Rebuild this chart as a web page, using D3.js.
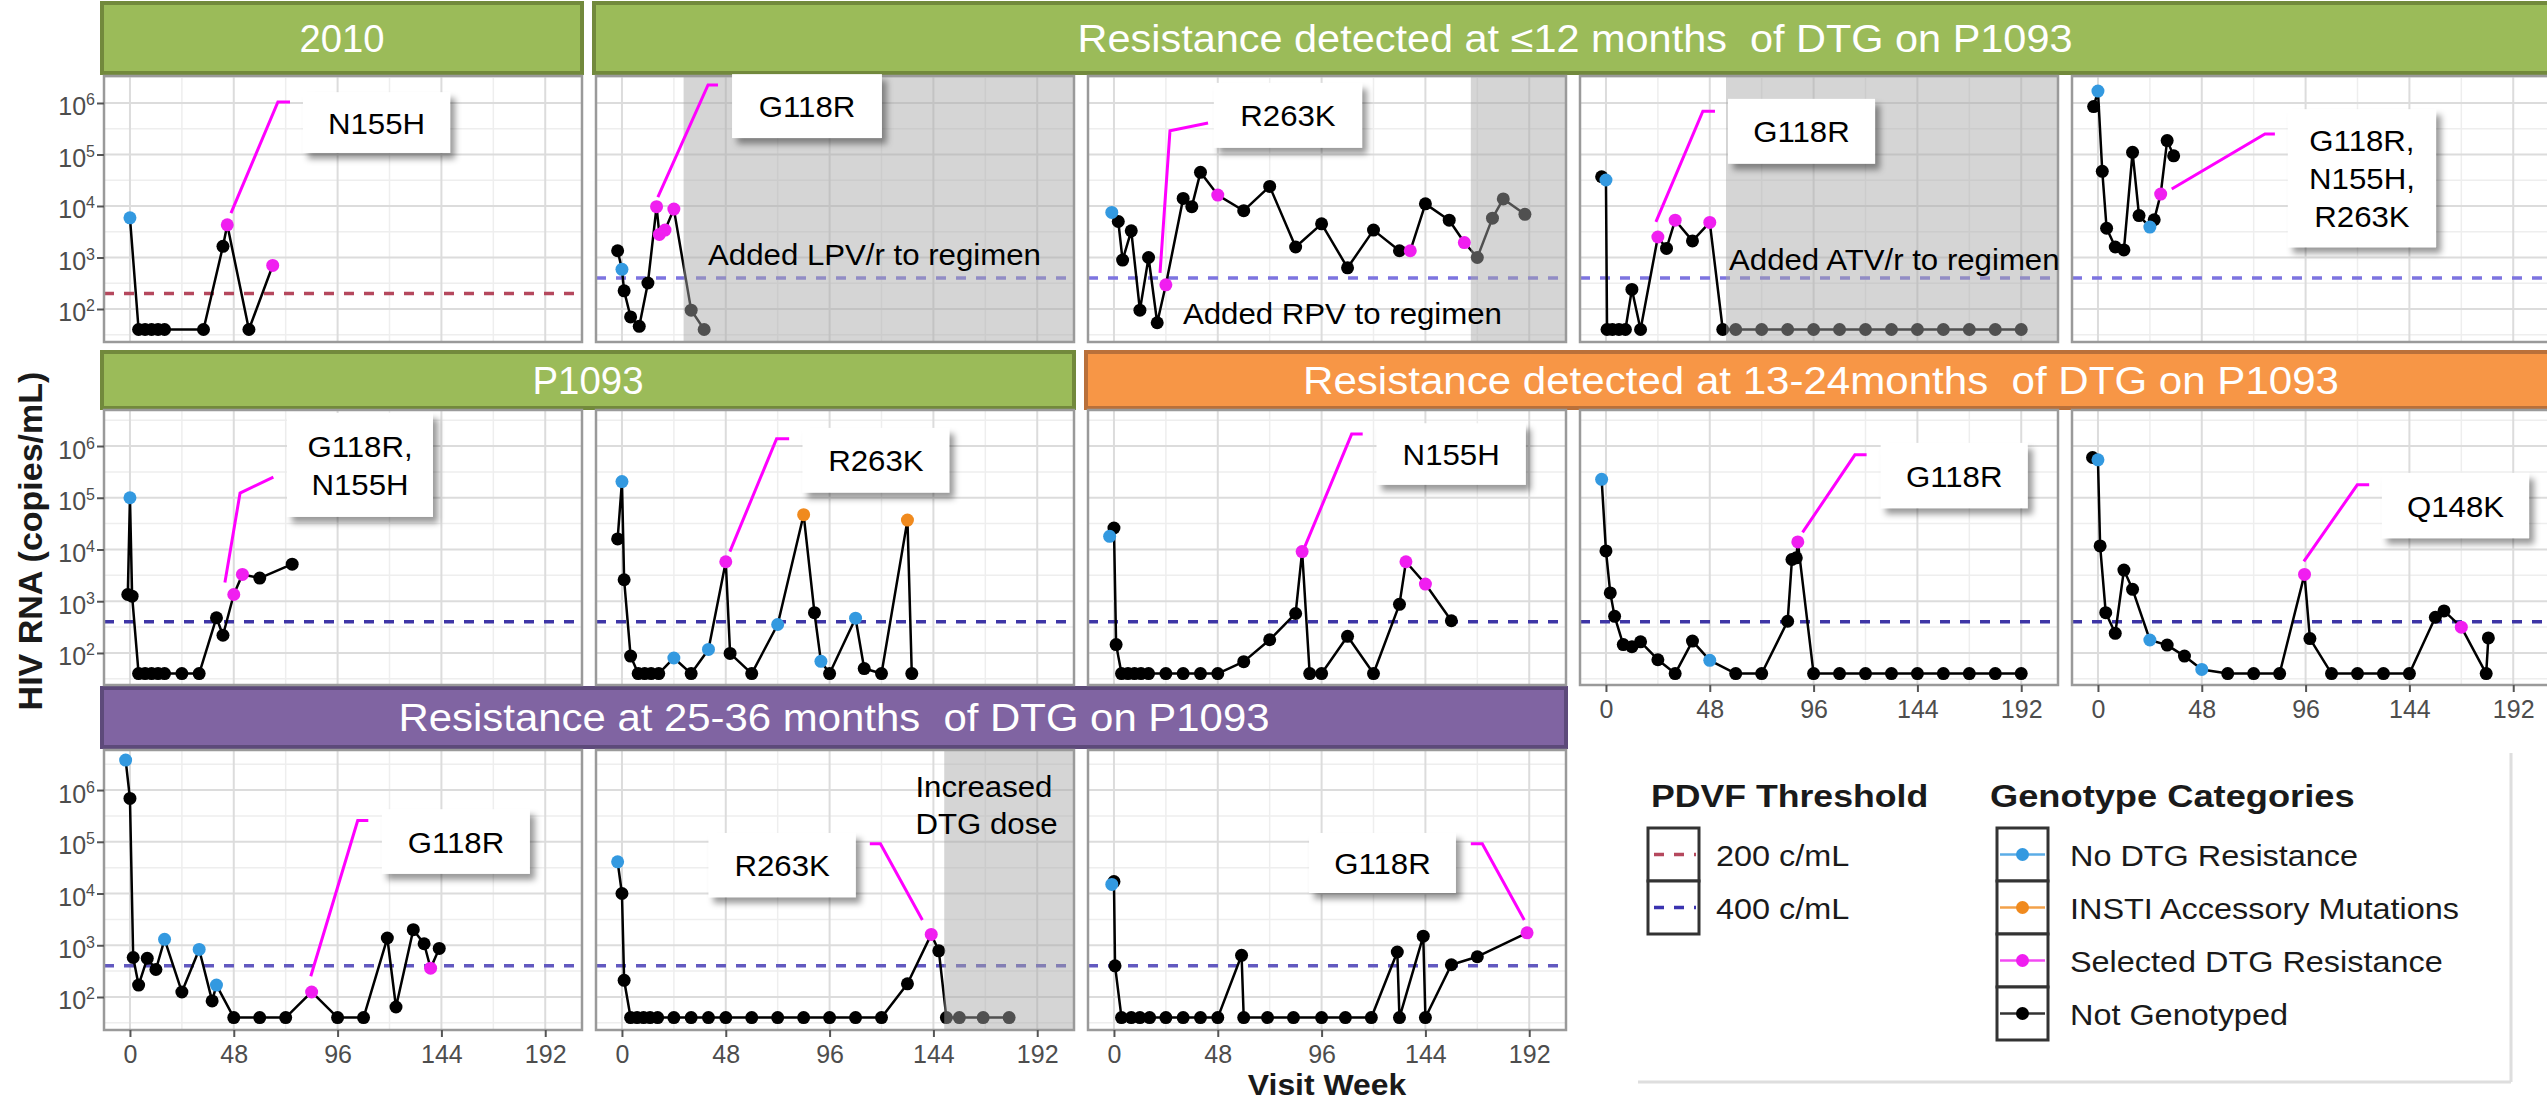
<!DOCTYPE html>
<html><head><meta charset="utf-8">
<script src="https://cdn.jsdelivr.net/npm/d3@7/dist/d3.min.js"></script>
<style>
html,body{margin:0;padding:0;background:#fff;}
svg{display:block;}
</style></head><body>
<svg id="chart" width="2547" height="1102"></svg>
<script>
// ---------------- data ----------------
const weekTicks = [0, 48, 96, 144, 192];
const weekMinor = [24, 72, 120, 168];
const yTickExps = [2, 3, 4, 5, 6];
const categoryCodes = ["N", "A", "S", "X"];
const categoryLabels = ["No DTG Resistance", "INSTI Accessory Mutations", "Selected DTG Resistance", "Not Genotyped"];
const thresholdValues = [200, 400];
const thresholdLabels = ["200 c/mL", "400 c/mL"];
const bannerTitles = ["2010", "Resistance detected at \u226412 months  of DTG on P1093", "P1093",
  "Resistance detected at 13-24months  of DTG on P1093", "Resistance at 25-36 months  of DTG on P1093"];
const axisTitleX = "Visit Week";
const axisTitleY = "HIV RNA (copies/mL)";

// row 1
const wk_r1c1 = [0, 4, 7, 10, 13, 16, 34, 43, 45, 55, 66];
const rna_r1c1 = [5900, 40, 40, 40, 40, 40, 40, 1650, 4300, 40, 700];
const cat_r1c1 = ["N","X","X","X","X","X","X","X","S","X","S"];

const wk_r1c2 = [-2, 0, 1, 4, 8, 12, 16, 17.3, 19.9, 24, 32, 38];
const rna_r1c2 = [1350, 590, 225, 70, 46, 320, 9700, 2800, 3400, 8700, 95, 40];
const cat_r1c2 = ["X","N","X","X","X","X","S","S","S","S","X","X"];

const wk_r1c3 = [-1, 2, 4, 8, 12, 16, 20, 24, 32, 36, 40, 48, 60, 72, 84, 96, 108, 120, 132, 137, 144, 155, 162, 168, 175, 180, 190];
const rna_r1c3 = [7500, 5000, 890, 3300, 95, 1000, 54, 295, 14000, 9700, 45000, 16300, 8100, 24000, 1600, 4500, 630, 3400, 1350, 1350, 11000, 5300, 1950, 1000, 5800, 13700, 6900];
const cat_r1c3 = ["N","X","X","X","X","X","X","S","X","X","X","S","X","X","X","X","X","X","X","S","X","X","S","X","X","X","X"];

const wk_r1c4 = [-2, 0, 0.5, 3, 6, 9, 12, 16, 24, 28, 32, 40, 48, 54, 60, 72, 84, 96, 108, 120, 132, 144, 156, 168, 180, 192];
const rna_r1c4 = [37000, 32000, 40, 40, 40, 40, 240, 40, 2500, 1500, 5300, 2100, 4800, 40, 40, 40, 40, 40, 40, 40, 40, 40, 40, 40, 40, 40];
const cat_r1c4 = ["X","N","X","X","X","X","X","X","S","X","S","X","S","X","X","X","X","X","X","X","X","X","X","X","X","X"];

const wk_r1c5 = [-2, 0, 2, 4, 8, 12, 16, 19, 24, 26, 29, 32, 35];
const rna_r1c5 = [850000, 1700000, 47000, 3700, 1600, 1400, 110000, 6500, 3900, 5400, 17000, 186000, 94000];
const cat_r1c5 = ["X","N","X","X","X","X","X","X","N","X","S","X","X"];

// row 2
const wk_r2c1 = [-1, 0, 1, 4, 7, 10, 13, 16, 24, 32, 40, 43, 48, 52, 60, 75];
const rna_r2c1 = [1350, 100000, 1250, 40, 40, 40, 40, 40, 40, 40, 480, 220, 1350, 3300, 2800, 5200];
const cat_r2c1 = ["X","N","X","X","X","X","X","X","X","X","X","X","S","S","X","X"];

const wk_r2c2 = [-2, 0, 1, 4, 7.5, 10.5, 13.5, 17, 24, 32, 40, 48, 50, 60, 72, 84, 89, 92, 96, 108, 112, 120, 132, 134];
const rna_r2c2 = [16000, 205000, 2600, 87, 40, 40, 40, 40, 80, 40, 117, 5800, 98, 40, 355, 47000, 600, 69, 40, 470, 50, 40, 37000, 40];
const cat_r2c2 = ["X","N","X","X","X","X","X","X","N","X","N","S","X","X","N","A","X","N","X","N","X","X","A","X"];

const wk_r2c3 = [-2, 0, 1, 3.5, 6.5, 9.5, 12.5, 16, 24, 32, 40, 48, 60, 72, 84, 87, 90.5, 96, 108, 120, 132, 135, 144, 156];
const rna_r2c3 = [18000, 26000, 145, 40, 40, 40, 40, 40, 40, 40, 40, 40, 68, 180, 580, 9100, 40, 40, 210, 40, 870, 5800, 2150, 420];
const cat_r2c3 = ["N","X","X","X","X","X","X","X","X","X","X","X","X","X","X","S","X","X","X","X","X","S","S","X"];

const wk_r2c4 = [-2, 0, 2, 4, 8, 12, 16, 24, 32, 40, 48, 60, 72, 84, 86, 88, 88.7, 96, 108, 120, 132, 144, 156, 168, 180, 192];
const rna_r2c4 = [227000, 9400, 1450, 510, 145, 132, 164, 74, 40, 170, 72, 40, 40, 410, 6400, 6900, 14000, 40, 40, 40, 40, 40, 40, 40, 40, 40];
const cat_r2c4 = ["N","X","X","X","X","X","X","X","X","X","N","X","X","X","X","X","S","X","X","X","X","X","X","X","X","X"];

const wk_r2c5 = [-2.5, 0, 1, 3.6, 8, 12, 16, 24, 32, 40, 48, 60, 72, 84, 95.5, 98, 108, 120, 132, 144, 156, 160, 168, 179.5, 180.5];
const rna_r2c5 = [600000, 540000, 11700, 600, 240, 4000, 1700, 178, 142, 87, 48, 40, 40, 40, 3300, 190, 40, 40, 40, 40, 490, 650, 315, 40, 195];
const cat_r2c5 = ["X","N","X","X","X","X","X","N","X","X","N","X","X","X","S","X","X","X","X","X","X","X","S","X","X"];

// row 3
const wk_r3c1 = [-2, 0, 1.5, 4, 8, 12, 16, 24, 32, 38, 40, 48, 60, 72, 84, 96, 108, 119, 123, 131, 136, 139, 143];
const rna_r3c1 = [3800000, 690000, 580, 170, 560, 340, 1300, 125, 830, 84, 170, 40, 40, 40, 125, 40, 40, 1380, 64, 2000, 1070, 360, 870];
const cat_r3c1 = ["N","X","X","X","X","X","N","X","N","X","N","X","X","X","S","X","X","X","X","X","X","S","X"];

const wk_r3c2 = [-2, 0, 1, 4, 7, 10, 13, 16.5, 24, 32, 40, 48, 60, 72, 84, 96, 108, 120, 132, 143, 146.5, 150, 156, 167, 179];
const rna_r3c2 = [41000, 10000, 210, 40, 40, 40, 40, 40, 40, 40, 40, 40, 40, 40, 40, 40, 40, 40, 180, 1620, 780, 40, 40, 40, 40];
const cat_r3c2 = ["N","X","X","X","X","X","X","X","X","X","X","X","X","X","X","X","X","X","X","S","X","X","X","X","X"];

const wk_r3c3 = [-1, 0, 0.5, 3.5, 8, 12, 16.5, 24, 32, 40, 48, 59, 60, 71, 83, 96, 107, 119, 131, 132, 143, 144, 156, 168, 191];
const rna_r3c3 = [15000, 17000, 400, 40, 40, 40, 40, 40, 40, 40, 40, 640, 40, 40, 40, 40, 40, 40, 740, 40, 1500, 40, 420, 600, 1740];
const cat_r3c3 = ["N","X","X","X","X","X","X","X","X","X","X","X","X","X","X","X","X","X","X","X","X","X","X","X","S"];

// mutation labels (text) and regimen notes
const mutationLabels = [["N155H"], ["G118R"], ["R263K"], ["G118R"], ["G118R,","N155H,","R263K"],
  ["G118R,","N155H"], ["R263K"], ["N155H"], ["G118R"], ["Q148K"],
  ["G118R"], ["R263K"], ["G118R"]];
const regimenNotes = [["Added LPV/r to regimen"], ["Added RPV to regimen"], ["Added ATV/r to regimen"], ["Increased","DTG dose"]];
// week at which regimen change begins (shaded)
const shadeStartWeeks = [28.5, 165, 55.5, 149];

// ---------------- layout / styles ----------------
const FONT = '"Liberation Sans", Arial, Helvetica, sans-serif';
const catColor = {N: "#3399e0", A: "#f08a1e", S: "#f01ef0", X: "#000000"};
const PANEL_W = 478, COL_STEP = 492, COL0 = 104;
const X_DOMAIN = [-12, 209];
const rows = [
  {top: 76, bottom: 342, logTop: 6.524, logBot: 1.359, bTop: 3, bBot: 73, thr400: "#7d74e0"},
  {top: 410, bottom: 685, logTop: 6.696, logBot: 1.381, bTop: 352, bBot: 408, thr400: "#3e36a6"},
  {top: 750, bottom: 1030, logTop: 6.774, logBot: 1.362, bTop: 688, bBot: 747, thr400: "#6259c0"}
];
const thrColor200 = "#b5485d";
const themes = {
  green: {fill: "#9bbb59", stroke: "#72893c"},
  orange: {fill: "#f79646", stroke: "#b9703a"},
  purple: {fill: "#8064a2", stroke: "#5d4a7a"}
};
const colLeft = c => COL0 + COL_STEP * c;

// annotation placement in data units (week, log10 copies)
const panels = [
  {row:0,col:0,wk:wk_r1c1,rna:rna_r1c1,cat:cat_r1c1,thr:200,lab:0,leader:[[46.7,3.86],[68.4,6.02],[74,6.02]],box:[80,148,6.21,5.03]},
  {row:0,col:1,wk:wk_r1c2,rna:rna_r1c2,cat:cat_r1c2,thr:400,lab:1,leader:[[16.6,4.17],[39.8,6.35],[44.4,6.35]],box:[50.9,120.2,6.56,5.32],note:0,noteAt:[39.8,2.85],shade:0},
  {row:0,col:2,wk:wk_r1c3,rna:rna_r1c3,cat:cat_r1c3,thr:400,lab:2,leader:[[21.3,2.70],[25.9,5.46],[43.5,5.61]],box:[46.2,114.7,6.39,5.13],note:1,noteAt:[31.9,1.71],shade:1},
  {row:0,col:3,wk:wk_r1c4,rna:rna_r1c4,cat:cat_r1c4,thr:400,lab:3,leader:[[23.1,3.69],[44.8,5.84],[50.4,5.84]],box:[56.4,124.4,6.08,4.82],note:2,noteAt:[56.9,2.76],shade:2},
  {row:0,col:4,wk:wk_r1c5,rna:rna_r1c5,cat:cat_r1c5,thr:400,lab:4,leader:[[34.1,4.33],[77.2,5.40],[81.8,5.40]],box:[87.8,156.3,5.88,3.20]},
  {row:1,col:0,wk:wk_r2c1,rna:rna_r2c1,cat:cat_r2c1,thr:400,lab:5,leader:[[43.9,3.36],[50.9,5.09],[66.3,5.40]],box:[72.6,140.1,6.64,4.63]},
  {row:1,col:1,wk:wk_r2c2,rna:rna_r2c2,cat:cat_r2c2,thr:400,lab:6,leader:[[49.9,3.96],[71.5,6.14],[77.3,6.14]],box:[83.5,151.3,6.35,5.10]},
  {row:1,col:2,wk:wk_r2c3,rna:rna_r2c3,cat:cat_r2c3,thr:400,lab:7,leader:[[88.3,4.06],[109.9,6.23],[115,6.23]],box:[121.4,190.4,6.44,5.25]},
  {row:1,col:3,wk:wk_r2c4,rna:rna_r2c4,cat:cat_r2c4,thr:400,lab:8,leader:[[90.9,4.33],[115.1,5.83],[120.5,5.83]],box:[127,195,6.06,4.80],xaxis:true},
  {row:1,col:4,wk:wk_r2c5,rna:rna_r2c5,cat:cat_r2c5,thr:400,lab:9,leader:[[95.2,3.77],[119.9,5.25],[125.4,5.25]],box:[131.3,199.3,5.48,4.22],xaxis:true},
  {row:2,col:0,wk:wk_r3c1,rna:rna_r3c1,cat:cat_r3c1,thr:400,lab:10,leader:[[83.6,2.40],[105.3,5.41],[110.2,5.41]],box:[116.5,184.9,5.63,4.38],xaxis:true},
  {row:2,col:1,wk:wk_r3c2,rna:rna_r3c2,cat:cat_r3c2,thr:400,lab:11,leader:[[138.9,3.49],[119.5,4.96],[114.6,4.96]],box:[40,108.1,5.17,3.93],note:3,noteAt:[135.7,5.86],shade:3,xaxis:true},
  {row:2,col:2,wk:wk_r3c3,rna:rna_r3c3,cat:cat_r3c3,thr:400,lab:12,leader:[[189.7,3.49],[170.3,4.96],[165,4.96]],box:[90.2,158.1,5.17,4.01],xaxis:true}
];
const banners = [
  {row:0, c0:0, c1:0, t:0, theme:"green", len:85},
  {row:0, c0:1, c1:4, t:1, theme:"green", len:995},
  {row:1, c0:0, c1:1, t:2, theme:"green", len:111},
  {row:1, c0:2, c1:4, t:3, theme:"orange", len:1036},
  {row:2, c0:0, c1:2, t:4, theme:"purple", len:871}
];

// ---------------- drawing ----------------
const svg = d3.select("#chart");
const defs = svg.append("defs");
const flt = defs.append("filter").attr("id","shadow").attr("x","-10%").attr("y","-15%").attr("width","130%").attr("height","140%");
flt.append("feDropShadow").attr("dx",5).attr("dy",6).attr("stdDeviation",3).attr("flood-color","#000").attr("flood-opacity",0.4);

function addText(parent, x, y, str, o) {
  const g = parent.append("g").attr("transform", `translate(${x},${y}) scale(${o.sx || 1},1)`);
  const t = g.append("text").attr("x", 0).attr("y", 0)
    .attr("text-anchor", o.anchor || "start")
    .attr("font-size", o.size).attr("font-weight", o.weight || "normal")
    .attr("fill", o.fill || "#000").attr("font-family", FONT)
    .style("white-space", "pre").text(str);
  if (o.rotate) g.attr("transform", `translate(${x},${y}) rotate(${o.rotate}) scale(${o.sx || 1},1)`);
  return t;
}

// banners
banners.forEach(b => {
  const R = rows[b.row], th = themes[b.theme];
  const x0 = colLeft(b.c0) - 2;
  const x1 = b.c1 === 4 ? colLeft(4) + PANEL_W + 6 : colLeft(b.c1) + PANEL_W;
  svg.append("rect").attr("x", x0).attr("y", R.bTop).attr("width", x1 - x0).attr("height", R.bBot - R.bTop)
    .attr("fill", th.fill).attr("stroke", th.stroke).attr("stroke-width", 4);
  const cy = (R.bTop + R.bBot) / 2;
  svg.append("text").attr("x", (x0 + x1) / 2).attr("y", cy + 13.5)
    .attr("text-anchor", "middle").attr("font-family", FONT).attr("font-size", 38).attr("fill", "#fff")
    .attr("textLength", b.len).attr("lengthAdjust", "spacingAndGlyphs")
    .style("white-space", "pre").text(bannerTitles[b.t]);
});

panels.forEach(p => {
  const R = rows[p.row];
  const L = colLeft(p.col);
  const x = d3.scaleLinear().domain(X_DOMAIN).range([L, L + PANEL_W]);
  const y = d3.scaleLog().domain([10 ** R.logBot, 10 ** R.logTop]).range([R.bottom, R.top]);
  const g = svg.append("g");
  g.append("rect").attr("x", L).attr("y", R.top).attr("width", PANEL_W).attr("height", R.bottom - R.top).attr("fill", "#fff");
  // minor grid
  const minorY = [1.5, 2.5, 3.5, 4.5, 5.5, 6.5].filter(e => e > R.logBot && e < R.logTop);
  g.selectAll(null).data(minorY).enter().append("line")
    .attr("x1", L).attr("x2", L + PANEL_W).attr("y1", e => y(10 ** e)).attr("y2", e => y(10 ** e))
    .attr("stroke", "#eeeeee").attr("stroke-width", 1.5);
  g.selectAll(null).data(weekMinor).enter().append("line")
    .attr("y1", R.top).attr("y2", R.bottom).attr("x1", d => x(d)).attr("x2", d => x(d))
    .attr("stroke", "#eeeeee").attr("stroke-width", 1.5);
  // major grid
  g.selectAll(null).data(yTickExps).enter().append("line")
    .attr("x1", L).attr("x2", L + PANEL_W).attr("y1", e => y(10 ** e)).attr("y2", e => y(10 ** e))
    .attr("stroke", "#dcdcdc").attr("stroke-width", 2);
  g.selectAll(null).data(weekTicks).enter().append("line")
    .attr("y1", R.top).attr("y2", R.bottom).attr("x1", d => x(d)).attr("x2", d => x(d))
    .attr("stroke", "#dcdcdc").attr("stroke-width", 2);
  // threshold
  g.append("line").attr("x1", L).attr("x2", L + PANEL_W).attr("y1", y(p.thr)).attr("y2", y(p.thr))
    .attr("stroke", p.thr === 200 ? thrColor200 : R.thr400).attr("stroke-width", 3.5).attr("stroke-dasharray", "10,10");
  // series
  const pts = p.wk.map((w, i) => ({w: w, v: p.rna[i], c: p.cat[i]}));
  g.append("path").datum(pts)
    .attr("d", d3.line().x(d => x(d.w)).y(d => y(d.v)))
    .attr("fill", "none").attr("stroke", "#000").attr("stroke-width", 2.5).attr("stroke-linejoin", "round");
  const order = pts.slice().sort((a, b) => (a.c === "X" ? 0 : 1) - (b.c === "X" ? 0 : 1));
  g.selectAll(null).data(order).enter().append("circle")
    .attr("cx", d => x(d.w)).attr("cy", d => y(d.v)).attr("r", 6.5).attr("fill", d => catColor[d.c]);
  // shaded regimen change
  if (p.shade !== undefined) {
    const s = shadeStartWeeks[p.shade];
    g.append("rect").attr("x", x(s)).attr("y", R.top).attr("width", x(X_DOMAIN[1]) - x(s)).attr("height", R.bottom - R.top)
      .attr("fill", "#a7a7a7").attr("opacity", 0.48);
  }
  // border
  g.append("rect").attr("x", L).attr("y", R.top).attr("width", PANEL_W).attr("height", R.bottom - R.top)
    .attr("fill", "none").attr("stroke", "#9a9a9a").attr("stroke-width", 2.5);
  // note
  if (p.note !== undefined) {
    const lines = regimenNotes[p.note];
    lines.forEach((ln, i) => addText(g, x(p.noteAt[0]), y(10 ** p.noteAt[1]) + i * 37, ln, {size: 30, sx: 1.04}));
  }
  // leader + box
  g.append("path").datum(p.leader)
    .attr("d", d3.line().x(d => x(d[0])).y(d => y(10 ** d[1])))
    .attr("fill", "none").attr("stroke", "#ff00ff").attr("stroke-width", 3);
  const bx0 = x(p.box[0]), bx1 = x(p.box[1]), by0 = y(10 ** p.box[2]), by1 = y(10 ** p.box[3]);
  g.append("rect").attr("x", bx0).attr("y", by0).attr("width", bx1 - bx0).attr("height", by1 - by0)
    .attr("fill", "#fff").attr("filter", "url(#shadow)");
  const lines = mutationLabels[p.lab];
  const cx = (bx0 + bx1) / 2, cy = (by0 + by1) / 2;
  lines.forEach((ln, i) => addText(g, cx, cy + (i - (lines.length - 1) / 2) * 38 + 11, ln, {size: 30, sx: 1.04, anchor: "middle"}));

  // axes
  if (p.col === 0) {
    const ya = svg.append("g").attr("transform", `translate(${L},0)`)
      .call(d3.axisLeft(y).tickValues(yTickExps.map(e => 10 ** e)).tickSize(7).tickFormat(""));
    ya.select(".domain").remove();
    ya.selectAll(".tick line").attr("stroke", "#555").attr("stroke-width", 2);
    ya.selectAll(".tick").each(function(d) {
      const t = d3.select(this).append("text").attr("x", -9).attr("y", 12)
        .attr("text-anchor", "end").attr("fill", "#4d4d4d").attr("font-family", FONT).style("font-size", "25px");
      t.append("tspan").text("10");
      t.append("tspan").attr("dy", -10).style("font-size", "16px").text(String(Math.round(Math.log10(d))));
    });
  }
  if (p.xaxis) {
    const xa = svg.append("g").attr("transform", `translate(0,${R.bottom})`)
      .call(d3.axisBottom(x).tickValues(weekTicks).tickSize(7));
    xa.select(".domain").remove();
    xa.selectAll(".tick line").attr("stroke", "#555").attr("stroke-width", 2);
    xa.selectAll(".tick text").attr("y", 15).attr("dy", "0.71em").attr("fill", "#4d4d4d")
      .attr("font-family", FONT).style("font-size", "25px");
  }
});

// axis titles
addText(svg, 1327, 1095, axisTitleX, {size: 29, weight: "bold", anchor: "middle", sx: 1.1, fill: "#1a1a1a"});
addText(svg, 42, 541, axisTitleY, {size: 34, weight: "bold", anchor: "middle", rotate: -90, fill: "#1a1a1a"});

// legend
const lg = svg.append("g");
lg.append("line").attr("x1", 1638).attr("x2", 2511).attr("y1", 1082).attr("y2", 1082).attr("stroke", "#dedede").attr("stroke-width", 3);
lg.append("line").attr("x1", 2511).attr("x2", 2511).attr("y1", 753).attr("y2", 1082).attr("stroke", "#dedede").attr("stroke-width", 3);
addText(lg, 1651, 807, "PDVF Threshold", {size: 31, weight: "bold", sx: 1.15, fill: "#1a1a1a"});
addText(lg, 1990, 807, "Genotype Categories", {size: 31, weight: "bold", sx: 1.17, fill: "#1a1a1a"});
const KEY_H = 53, KEY_W = 51, KEY_TOP = 828;
const thrKeyColors = [thrColor200, "#3a33b0"];
thresholdLabels.forEach((lab, i) => {
  const ky = KEY_TOP + i * KEY_H;
  lg.append("rect").attr("x", 1648).attr("y", ky).attr("width", KEY_W).attr("height", KEY_H)
    .attr("fill", "#fff").attr("stroke", "#333").attr("stroke-width", 3);
  lg.append("line").attr("x1", 1652).attr("x2", 1696).attr("y1", ky + KEY_H / 2).attr("y2", ky + KEY_H / 2)
    .attr("stroke", thrKeyColors[i]).attr("stroke-width", 3.5).attr("stroke-dasharray", "10,10").attr("stroke-dashoffset", -2);
  addText(lg, 1716, ky + KEY_H / 2 + 11, lab, {size: 30, sx: 1.08, fill: "#1a1a1a"});
});
categoryCodes.forEach((c, i) => {
  const ky = KEY_TOP + i * KEY_H;
  lg.append("rect").attr("x", 1997).attr("y", ky).attr("width", KEY_W).attr("height", KEY_H)
    .attr("fill", "#fff").attr("stroke", "#333").attr("stroke-width", 3);
  lg.append("line").attr("x1", 2000).attr("x2", 2045).attr("y1", ky + KEY_H / 2).attr("y2", ky + KEY_H / 2)
    .attr("stroke", catColor[c]).attr("stroke-width", 2.5).attr("opacity", 0.8);
  lg.append("circle").attr("cx", 1997 + KEY_W / 2).attr("cy", ky + KEY_H / 2).attr("r", 6.5).attr("fill", catColor[c]);
  addText(lg, 2070, ky + KEY_H / 2 + 11, categoryLabels[i], {size: 30, sx: 1.08, fill: "#1a1a1a"});
});
</script>
</body></html>
